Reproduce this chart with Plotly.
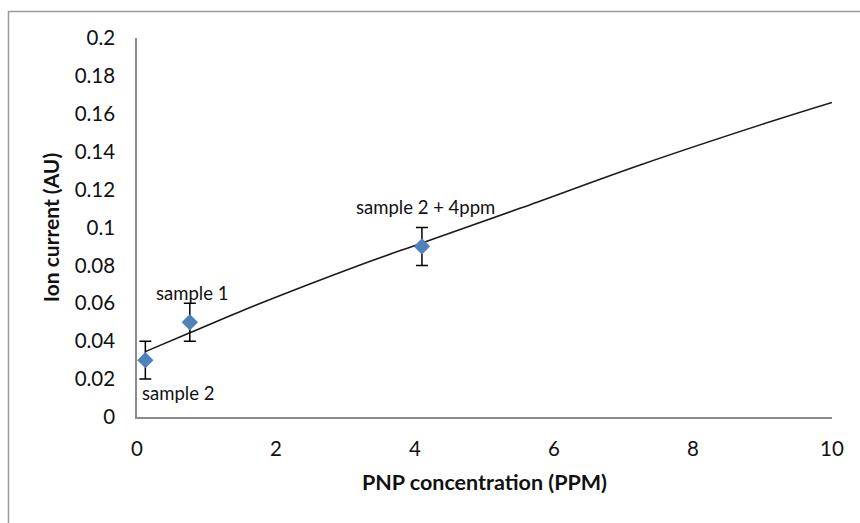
import plotly.graph_objects as go

# Measured samples: PNP concentration (PPM) vs ion current (AU)
conc = [0.12, 0.76, 4.1]
current = [0.03, 0.05, 0.09]
current_err = [0.01, 0.01, 0.01]
sample_names = ["sample 2", "sample 1", "sample 2 + 4ppm"]

# Trend line through the calibration points
trend_conc = [0.12, 0.76, 1.48, 3.21, 4.1, 5.51, 7.24, 9.11, 10.0]
trend_current = [0.0345, 0.0444, 0.0556, 0.0802, 0.0918, 0.1101, 0.1330, 0.1558, 0.166]

x_ticks = [0, 2, 4, 6, 8, 10]
x_tick_text = ["0", "2", "4", "6", "8", "10"]
y_ticks = [0, 0.02, 0.04, 0.06, 0.08, 0.1, 0.12, 0.14, 0.16, 0.18, 0.2]
y_tick_text = ["0", "0.02", "0.04", "0.06", "0.08", "0.1", "0.12", "0.14", "0.16", "0.18", "0.2"]

FONT = "Lato"
W, H = 860, 523
L, R, T, B = 137, 28, 38, 106

fig = go.Figure()

fig.add_trace(go.Scatter(
    x=trend_conc, y=trend_current, mode="lines",
    line=dict(color="#1a1a1a", width=1.6, shape="spline"),
    hoverinfo="skip", showlegend=False,
))

fig.add_trace(go.Scatter(
    x=conc, y=current, mode="markers",
    marker=dict(symbol="diamond", size=12.5, color="#4F81BD", line=dict(width=0)),
    error_y=dict(type="data", array=current_err, visible=True,
                 color="#000000", thickness=1.5, width=6),
    showlegend=False,
))

# Point labels
label_offsets = [(-5, -33, "left"), (2, 29, "center"), (4, 39, "center")]
for xv, yv, name, (dx, dy, anchor) in zip(conc, current, sample_names, label_offsets):
    fig.add_annotation(
        x=xv, y=yv, xref="x", yref="y", text=name, showarrow=False,
        xanchor=anchor, yanchor="middle", xshift=dx, yshift=dy,
        font=dict(family=FONT, size=18.5, color="#111111"),
    )

# Chart-area border
pw, ph = W - L - R, H - T - B
fig.add_shape(
    type="rect", xref="paper", yref="paper",
    x0=(8.5 - L) / pw, x1=(W + 10 - L) / pw,
    y0=-(H + 10 - (H - B)) / ph, y1=1 + (T - 11.5) / ph,
    line=dict(color="#9a9a9a", width=1.5), fillcolor="rgba(0,0,0,0)", layer="below",
)

fig.update_layout(
    width=W, height=H,
    margin=dict(l=L, r=R, t=T, b=B, pad=0),
    paper_bgcolor="white", plot_bgcolor="white",
    font=dict(family=FONT, color="#111111"),
    xaxis=dict(
        range=[0, 10], tickvals=x_ticks, ticktext=x_tick_text,
        showgrid=False, zeroline=False, showline=True, linecolor="#8c8c8c", linewidth=1.5,
        ticks="", tickfont=dict(family=FONT, size=20.5, color="#111111"),
        ticklabelstandoff=13,
        title=dict(text="<b>PNP concentration (PPM)</b>", standoff=16,
                   font=dict(family=FONT, size=21.5, color="#111111")),
    ),
    yaxis=dict(
        range=[0, 0.2], tickvals=y_ticks, ticktext=y_tick_text,
        showgrid=False, zeroline=False, showline=True, linecolor="#8c8c8c", linewidth=1.5,
        ticks="", tickfont=dict(family=FONT, size=20.5, color="#111111"),
        ticklabelstandoff=16,
        title=dict(text="<b>Ion current (AU)</b>", standoff=9,
                   font=dict(family=FONT, size=21, color="#111111")),
    ),
)

fig.write_html("out.html")
